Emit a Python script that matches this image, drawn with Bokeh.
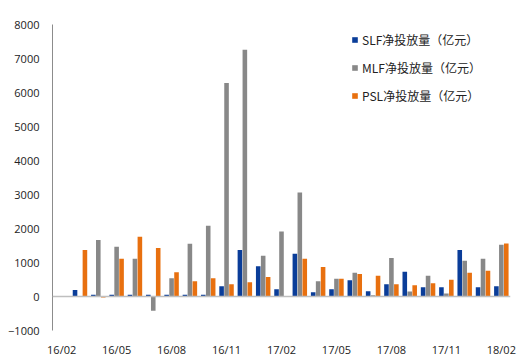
from bokeh.plotting import figure
from bokeh.models import ColumnDataSource, FixedTicker, Span, Range1d, Legend, LegendItem
from bokeh.transform import dodge
from bokeh.embed import file_html
from bokeh.resources import INLINE

months = ["16/02", "16/03", "16/04", "16/05", "16/06", "16/07", "16/08", "16/09", "16/10",
          "16/11", "16/12", "17/01", "17/02", "17/03", "17/04", "17/05", "17/06", "17/07",
          "17/08", "17/09", "17/10", "17/11", "17/12", "18/01", "18/02"]
slf = [0, 190, 50, 50, 50, 50, 50, 50, 50, 300, 1370, 890, 215, 1255, 125, 215, 480, 155,
       360, 725, 275, 275, 1370, 275, 300]
mlf = [0, 0, 1665, 1460, 1110, -420, 540, 1550, 2080, 6280, 7260, 1195, 1910, 3060, 450, 520,
       695, 40, 1135, 150, 610, 90, 1050, 1110, 1520]
psl = [0, 1370, -30, 1110, 1755, 1430, 715, 450, 540, 360, 420, 570, 0, 1110, 870, 520, 665,
       610, 360, 330, 390, 490, 695, 755, 1560]
series_names = ["SLF净投放量（亿元）", "MLF净投放量（亿元）", "PSL净投放量（亿元）"]
tick_months = ["16/02", "16/05", "16/08", "16/11", "17/02", "17/05", "17/08", "17/11", "18/02"]
y_ticks = [-1000, 0, 1000, 2000, 3000, 4000, 5000, 6000, 7000, 8000]

x = list(range(len(months)))
src = ColumnDataSource(dict(x=x, slf=slf, mlf=mlf, psl=psl))

p = figure(width=525, height=359, output_backend="svg", toolbar_location=None,
           x_range=Range1d(-0.5, len(months) - 0.5), y_range=Range1d(-1000, 8000),
           min_border_left=52, min_border_right=15, min_border_top=24, min_border_bottom=28)
p.outline_line_color = None
p.xgrid.grid_line_color = None
p.ygrid.grid_line_color = None

colors = ["#0A3D99", "#888888", "#E8700F"]
w = 0.25
off = 0.27
r1 = p.vbar(x=dodge("x", -off), top="slf", width=w, source=src, fill_color=colors[0], line_color=None)
r2 = p.vbar(x=dodge("x", 0.0), top="mlf", width=w, source=src, fill_color=colors[1], line_color=None)
r3 = p.vbar(x=dodge("x", off), top="psl", width=w, source=src, fill_color=colors[2], line_color=None)

p.add_layout(Span(location=0, dimension="width", line_color="#BFBFBF", line_width=1.5))

tick_pos = [months.index(m) for m in tick_months]
p.xaxis.ticker = FixedTicker(ticks=tick_pos)
p.xaxis.major_label_overrides = {i: months[i] for i in tick_pos}
p.xaxis.axis_line_color = None
p.xaxis.major_tick_line_color = None
p.xaxis.minor_tick_line_color = None
p.xaxis.major_tick_out = 0
p.xaxis.minor_tick_out = 0
p.xaxis.major_label_standoff = 11
p.xaxis.major_label_text_font = "Open Sans"
p.xaxis.major_label_text_font_size = "11px"
p.xaxis.major_label_text_color = "#222222"

p.yaxis.ticker = FixedTicker(ticks=y_ticks)
p.yaxis.axis_line_color = "#8C8C8C"
p.yaxis.major_tick_line_color = None
p.yaxis.minor_tick_line_color = None
p.yaxis.major_tick_out = 0
p.yaxis.minor_tick_out = 0
p.yaxis.major_label_standoff = 13
p.yaxis.major_label_text_font = "Open Sans"
p.yaxis.major_label_text_font_size = "11px"
p.yaxis.major_label_text_color = "#222222"

legend = Legend(items=[LegendItem(label=series_names[0], renderers=[r1]),
                       LegendItem(label=series_names[1], renderers=[r2]),
                       LegendItem(label=series_names[2], renderers=[r3])],
                location=(299, 225), padding=0, margin=0, spacing=8,
                glyph_width=7, glyph_height=7, label_height=20, label_standoff=4,
                border_line_color=None, background_fill_alpha=0,
                label_text_font="Noto Sans CJK SC", label_text_font_size="12px",
                label_text_color="#222222")
p.add_layout(legend)

open("out.html", "w").write(file_html(p, INLINE))
